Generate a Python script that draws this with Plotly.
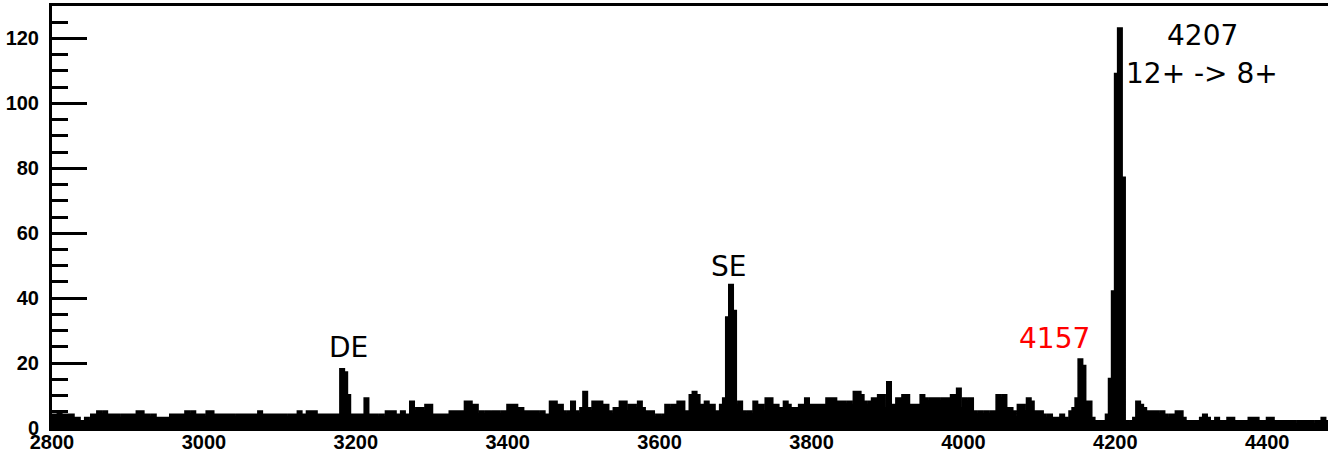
import plotly.graph_objects as go

# Histogram: 4 keV bins from 2800 to 4480 keV (counts per bin)
bin_start = 2800
bin_width = 4
counts = [
    4, 4, 5, 4, 4, 4, 4, 3, 3, 2,
    2, 3, 2, 4, 4, 5, 4, 5, 4, 4,
    4, 4, 3, 4, 4, 4, 4, 4, 5, 5,
    4, 4, 3, 4, 3, 3, 3, 3, 3, 4,
    4, 4, 4, 4, 5, 4, 5, 4, 4, 4,
    3, 5, 5, 4, 4, 4, 4, 4, 4, 4,
    3, 4, 4, 4, 4, 4, 4, 4, 5, 4,
    4, 4, 4, 4, 4, 4, 4, 3, 4, 4,
    4, 5, 4, 4, 5, 5, 5, 4, 4, 4,
    4, 4, 4, 4, 4, 18, 17, 10, 4, 4,
    4, 4, 4, 9, 4, 4, 4, 3, 4, 3,
    5, 5, 5, 4, 4, 5, 4, 4, 8, 5,
    6, 6, 5, 7, 7, 4, 4, 4, 4, 4,
    4, 5, 5, 5, 5, 5, 8, 8, 7, 7,
    4, 5, 4, 5, 4, 5, 5, 4, 5, 5,
    7, 7, 7, 6, 6, 5, 5, 5, 5, 5,
    4, 5, 4, 4, 8, 8, 7, 7, 5, 4,
    5, 8, 5, 4, 6, 11, 6, 5, 8, 8,
    8, 7, 7, 5, 4, 6, 6, 8, 8, 5,
    7, 7, 6, 8, 6, 5, 5, 5, 3, 4,
    3, 4, 7, 6, 7, 7, 8, 8, 5, 5,
    10, 11, 10, 7, 7, 8, 7, 7, 5, 5,
    7, 9, 34, 44, 36, 7, 8, 5, 4, 5,
    4, 8, 7, 7, 5, 9, 9, 7, 7, 6,
    6, 8, 7, 6, 6, 6, 7, 7, 9, 7,
    7, 7, 7, 7, 7, 9, 9, 9, 8, 8,
    8, 7, 8, 7, 11, 11, 10, 8, 7, 8,
    9, 9, 10, 10, 6, 14, 7, 7, 9, 9,
    10, 10, 7, 7, 7, 7, 10, 9, 8, 9,
    9, 9, 8, 9, 9, 9, 10, 10, 12, 6,
    9, 8, 9, 5, 4, 5, 4, 5, 4, 5,
    5, 10, 9, 10, 6, 6, 5, 3, 7, 7,
    5, 9, 8, 5, 5, 5, 4, 3, 4, 3,
    3, 3, 4, 3, 2, 5, 6, 9, 21, 19,
    8, 8, 3, 2, 2, 2, 2, 4, 15, 42,
    109, 123, 77, 2, 1, 2, 3, 8, 7, 6,
    5, 5, 5, 5, 4, 5, 4, 3, 4, 4,
    5, 5, 3, 2, 2, 2, 2, 2, 3, 4,
    3, 2, 2, 3, 2, 2, 2, 3, 3, 2,
    2, 2, 2, 2, 3, 3, 3, 2, 2, 2,
    3, 3, 2, 2, 2, 2, 2, 2, 2, 1,
    2, 2, 2, 2, 2, 1, 2, 2, 3, 2,
]

x_tick_vals = [2800, 3000, 3200, 3400, 3600, 3800, 4000, 4200, 4400]
y_tick_vals = [0, 20, 40, 60, 80, 100, 120]

peak_labels = ["DE", "SE", "4157", "4207", "12+ -> 8+"]
peak_label_x = [3191, 3691, 4120, 4315, 4314]
peak_label_y = [24.8, 49.7, 27.5, 121, 109.3]
peak_label_colors = ["black", "black", "red", "black", "black"]

edges = [bin_start + bin_width * i for i in range(len(counts) + 1)]
yvals = counts + [counts[-1]]

fig = go.Figure()
fig.add_trace(go.Scatter(
    x=edges, y=yvals, mode="lines",
    line=dict(shape="hv", color="black", width=3),
    fill="tozeroy", fillcolor="black",
    hoverinfo="skip", showlegend=False,
))

for txt, xx, yy, col in zip(peak_labels, peak_label_x, peak_label_y, peak_label_colors):
    fig.add_annotation(x=xx, y=yy, text=txt, showarrow=False,
                       font=dict(family="DejaVu Sans", size=28, color=col),
                       xanchor="center", yanchor="middle")

tick_font = dict(family="Liberation Sans", size=20, color="black", weight="bold")

fig.update_layout(
    width=1330, height=452,
    margin=dict(l=52, r=2, t=6, b=24, autoexpand=False),
    paper_bgcolor="white", plot_bgcolor="white",
    showlegend=False,
    xaxis=dict(
        range=[2800, 4480], showgrid=False, zeroline=False,
        showline=True, linecolor="black", linewidth=3, mirror=True,
        tickmode="array", tickvals=x_tick_vals, ticks="",
        tickfont=tick_font, ticklabelstandoff=-6, automargin=False,
    ),
    yaxis=dict(
        range=[0, 130], showgrid=False, zeroline=False,
        showline=True, linecolor="black", linewidth=3, mirror=False,
        tickmode="array", tickvals=y_tick_vals, ticks="inside",
        ticklen=35, tickwidth=3, tickcolor="black",
        minor=dict(dtick=5, ticks="inside", ticklen=16, tickwidth=3, tickcolor="black"),
        tickfont=tick_font, ticklabelstandoff=6, automargin=False,
    ),
)

fig.write_html("out.html", config={"displayModeBar": False},
               post_script="document.body.style.margin='0';document.body.style.padding='0';")
